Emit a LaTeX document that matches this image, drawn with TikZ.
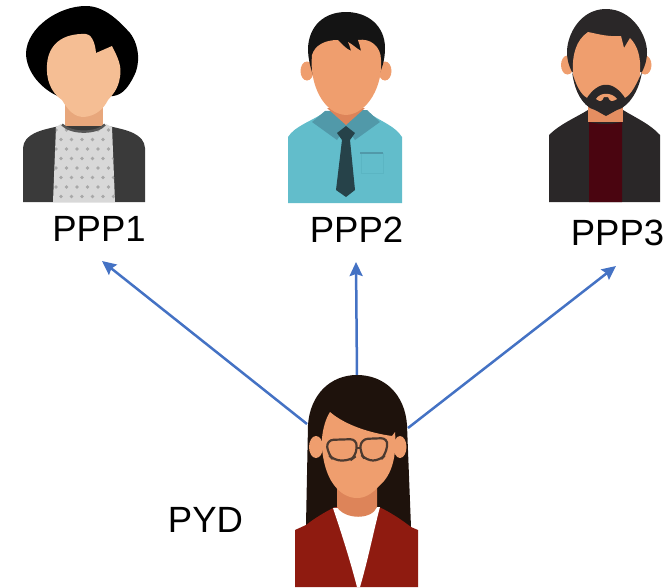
\documentclass[tikz,border=0pt]{standalone}
\usepackage{fontspec}
\setmainfont{Liberation Sans}
\usetikzlibrary{arrows.meta}
\definecolor{arrowblue}{HTML}{4472C4}
\definecolor{skinA}{HTML}{F5BE94}
\definecolor{neckA}{HTML}{E8A77C}
\definecolor{jackA}{HTML}{3A3A3A}
\definecolor{shirtA}{HTML}{D8D8D8}
\definecolor{dotA}{HTML}{A8A8A8}
\definecolor{skinB}{HTML}{EF9E6E}
\definecolor{neckB}{HTML}{DD8459}
\definecolor{hairB}{HTML}{141414}
\definecolor{shirtB}{HTML}{62BDCB}
\definecolor{collarB}{HTML}{5199A9}
\definecolor{tieB}{HTML}{264249}
\definecolor{pocketB}{HTML}{5BB5C3}
\definecolor{jackC}{HTML}{2A2728}
\definecolor{shirtC}{HTML}{4A0510}
\definecolor{hairD}{HTML}{1E120C}
\definecolor{redD}{HTML}{8F1B10}
\definecolor{glassD}{HTML}{4C3A30}
\tikzset{
  flow/.style={draw=arrowblue,line width=2.5pt,-{Stealth[length=14pt,width=13pt,inset=2pt]}},
  lbl/.style={font=\fontsize{36.5}{40}\selectfont,text=black,inner sep=0pt,anchor=center},
}
\begin{document}
\begin{tikzpicture}[x=1pt,y=-1pt]
\useasboundingbox (0,0) rectangle (672,587);
% connector ends
\coordinate (yd1) at (307,424);
\coordinate (yd2) at (357,376);
\coordinate (yd3) at (408,428);
\coordinate (pa) at (102,261);
\coordinate (pb) at (356,262);
\coordinate (pc) at (616,266);
\draw[flow] (yd1) -- (pa);
\draw[flow] (yd2) -- (pb);
\draw[flow] (yd3) -- (pc);
% ---- person 1
\fill[black] (86,6) .. controls (105,6) and (120,22) .. (130,33)
  .. controls (140,46) and (140,65) .. (134,76)
  .. controls (128,88) and (122,95) .. (113,96)
  -- (60,97) .. controls (42,90) and (26,72) .. (26,53)
  .. controls (27,28) and (58,6) .. (86,6) -- cycle;
\fill[neckA] (65,100) rectangle (103,130);
\fill[skinA] (86,34) .. controls (90,34) and (95,40) .. (96,53)
  -- (112,46) .. controls (118,58) and (122,66) .. (120,77)
  .. controls (118,90) and (112,95) .. (108,100)
  .. controls (103,110) and (95,116) .. (84,117)
  .. controls (74,117) and (68,110) .. (62,100)
  .. controls (50,92) and (46,78) .. (47,65)
  .. controls (48,45) and (62,33) .. (86,34) -- cycle;
\fill[jackA] (23,202) -- (23,148) .. controls (24,134) and (40,130) .. (60,126)
  -- (108,126) .. controls (128,130) and (144,134) .. (145,148) -- (145,202) -- cycle;
\begin{scope}
\clip (61,124) .. controls (70,134) and (98,134) .. (106,124) -- (112,127) -- (115,202) -- (53,202) -- (56,127) -- cycle;
\fill[shirtA] (50,120) rectangle (118,202);
\foreach \r in {0,...,8}{
  \foreach \c in {0,...,6}{
    \pgfmathsetmacro{\px}{56+\c*10.5+mod(\r,2)*5}
    \pgfmathsetmacro{\py}{130+\r*9.5}
    \fill[dotA] (\px,\py) circle[radius=1.9];
  }
}
\end{scope}
\draw[jackA!85!white,line width=2.4pt] (62,124.5) .. controls (71,134) and (97,134) .. (105,124.5);
% ---- person 2
\fill[skinB] (307,71) ellipse[x radius=6.5,y radius=9.5];
\fill[skinB] (385,71) ellipse[x radius=6.5,y radius=9.5];
\fill[shirtB] (288,203) -- (288,137) .. controls (295,126) and (310,122) .. (325,112)
  -- (367,112) .. controls (382,122) and (395,126) .. (402,137) -- (402,203) -- cycle;
\fill[collarB] (312,122) -- (325,111) -- (367,110) -- (380,122) -- (355,140) -- (346,127) -- (337,140) -- cycle;
\fill[neckB] (327,108) -- (365,108) -- (346,125) -- cycle;
\fill[tieB] (346,126) -- (355,133) -- (350,140) -- (355,190) -- (346,197) -- (336,190) -- (342,140) -- (337,133) -- cycle;
\draw[pocketB,line width=.7pt] (361,153) rectangle (383,173);
\draw[collarB,line width=2.4pt] (360,153) -- (383,153);
\fill[hairB] (346,12) .. controls (368,12) and (385,26) .. (385,48)
  .. controls (385,58) and (383,66) .. (379,75) -- (313,75)
  .. controls (310,66) and (308,58) .. (308,48)
  .. controls (309,26) and (324,12) .. (346,12) -- cycle;
\fill[skinB] (312,55) .. controls (315,45) and (325,40) .. (338,40)
  .. controls (342,44) and (345,48) .. (351,51)
  .. controls (350,47) and (349,44) .. (348,42)
  .. controls (352,44) and (356,48) .. (361,51)
  .. controls (360,46) and (359,43) .. (358,40)
  .. controls (370,38) and (381,46) .. (381,60)
  .. controls (383,85) and (368,114) .. (346,115)
  .. controls (324,114) and (309,85) .. (312,55) -- cycle;
% ---- person 3
\fill[skinB] (567.5,65) ellipse[x radius=6.5,y radius=9.5];
\fill[skinB] (645,65) ellipse[x radius=6.5,y radius=9.5];
\fill[jackC] (549,202) -- (549,135) .. controls (560,124) and (575,118) .. (588,110)
  -- (623,110) .. controls (636,118) and (650,124) .. (660,135) -- (660,202) -- cycle;
\fill[neckB!60!skinB] (588,105) rectangle (623,122);
\fill[shirtC] (589,122) .. controls (598,124.5) and (613,124.5) .. (622,122) -- (622,202) -- (589,202) -- cycle;
\fill[jackC] (606,9) .. controls (632,9) and (647,35) .. (647,52)
  .. controls (647,60) and (645,66) .. (642,72) -- (572,72)
  .. controls (569,66) and (567,60) .. (567,52)
  .. controls (567,35) and (580,9) .. (606,9) -- cycle;
\fill[skinB] (588,32) .. controls (598,34) and (608,37) .. (621,36)
  -- (624,48) -- (630,38) .. controls (638,46) and (641,58) .. (640,72)
  .. controls (640,95) and (622,113) .. (606,113)
  .. controls (590,113) and (573,95) .. (573,72)
  .. controls (572,55) and (576,40) .. (588,32) -- cycle;
\fill[jackC] (572,72) .. controls (574,85) and (578,100) .. (590,108)
  .. controls (596,110) and (602,114) .. (606,116)
  .. controls (610,114) and (616,110) .. (622,108)
  .. controls (634,100) and (640,85) .. (642,72)
  .. controls (636,85) and (632,94) .. (625,98)
  .. controls (620,90) and (612,84) .. (606,85)
  .. controls (600,84) and (592,90) .. (587,98)
  .. controls (580,94) and (576,85) .. (572,72) -- cycle;
\fill[skinB] (596,99) .. controls (600,92) and (612,92) .. (617,99)
  .. controls (612,102) and (610,102) .. (608,97) -- (604,97)
  .. controls (602,102) and (600,102) .. (596,99) -- cycle;
% ---- person 4 (PYD)
\fill[hairD] (357,375) .. controls (385,375) and (405,395) .. (407,425)
  -- (411,527) -- (306,525) -- (308,425)
  .. controls (310,395) and (330,375) .. (357,375) -- cycle;
\fill[skinB] (316,447) ellipse[x radius=7,y radius=11];
\fill[skinB] (400,447) ellipse[x radius=6.5,y radius=11];
\fill[redD] (295,587) -- (295,530) -- (306,525) .. controls (315,518) and (325,512) .. (335,507)
  -- (379,507) .. controls (390,512) and (402,520) .. (411,527) -- (418,530) -- (418,587) -- cycle;
\fill[white] (333,508) -- (380,507) .. controls (375,525) and (368,560) .. (360,587)
  -- (357,587) .. controls (350,560) and (342,535) .. (333,508) -- cycle;
\fill[neckB] (337,485) -- (377,485) -- (377,507) .. controls (372,520) and (345,520) .. (337,507) -- cycle;
\fill[skinB] (330,412) .. controls (345,425) and (370,433) .. (392,436)
  -- (395,432) .. controls (397,455) and (392,475) .. (380,485)
  .. controls (372,494) and (365,498) .. (357,498)
  .. controls (348,498) and (340,493) .. (334,485)
  .. controls (326,475) and (321,455) .. (322,438)
  .. controls (323,428) and (326,418) .. (330,412) -- cycle;
\draw[glassD,line width=2.2pt,rounded corners=7pt] (326.5,440) -- (357,439) -- (356,456) -- (350,460.5) -- (334,460.5) -- (328,454) -- cycle;
\draw[glassD,line width=2.2pt,rounded corners=7pt] (361,439) -- (388,438) -- (386,454) -- (380,460.5) -- (366,460.5) -- (360,453) -- cycle;
\draw[glassD,line width=2.2pt] (357,448) -- (361,448);
% ---- labels
\node[lbl] (lblA) at (99,229) {PPP1};
\node[lbl] (lblB) at (356.5,230) {PPP2};
\node[lbl] (lblC) at (617.5,233) {PPP3};
\node[lbl] (lblD) at (205.5,520) {PYD};
\end{tikzpicture}
\end{document}
